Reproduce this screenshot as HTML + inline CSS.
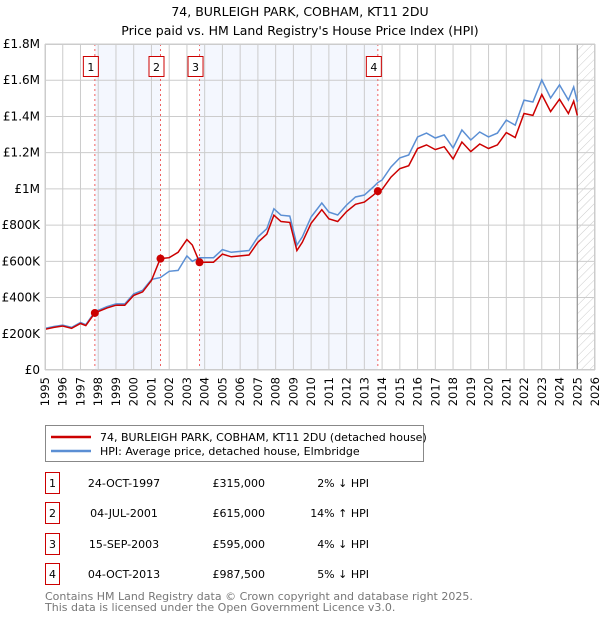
<!DOCTYPE html>
<html><head><meta charset="utf-8">
<style>
body{margin:0;background:#fff;font-family:"DejaVu Sans","Liberation Sans",sans-serif;}
svg text{font-family:"DejaVu Sans","Liberation Sans",sans-serif;}
</style></head>
<body>
<svg id="chart" width="600" height="620" viewBox="0 0 600 620">
<defs>
<pattern id="hatch" width="6" height="6" patternUnits="userSpaceOnUse" patternTransform="rotate(45)">
<line x1="0" y1="0" x2="0" y2="6" stroke="#ccc" stroke-width="1"/>
</pattern>
</defs>
<text x="300" y="16" text-anchor="middle" font-size="12.5" fill="#000">74, BURLEIGH PARK, COBHAM, KT11 2DU</text>
<text x="300" y="35" text-anchor="middle" font-size="12.5" fill="#000">Price paid vs. HM Land Registry's House Price Index (HPI)</text>
<g id="plot"></g>
<g id="legend">
<rect x="45.5" y="425.5" width="378" height="36" fill="#fff" stroke="#888"/>
<line x1="51" y1="437" x2="91" y2="437" stroke="#cc0000" stroke-width="2.5"/>
<text x="100" y="441" font-size="11">74, BURLEIGH PARK, COBHAM, KT11 2DU (detached house)</text>
<line x1="51" y1="451" x2="91" y2="451" stroke="#5b8fd4" stroke-width="2.5"/>
<text x="100" y="455" font-size="11">HPI: Average price, detached house, Elmbridge</text>
</g>
<g id="table"></g>
<text x="45" y="600" font-size="11" fill="#777">Contains HM Land Registry data © Crown copyright and database right 2025.</text>
<text x="45" y="611" font-size="11" fill="#777">This data is licensed under the Open Government Licence v3.0.</text>
</svg>
<script>
const dates=[1995,1995.5,1996,1996.5,1997,1997.3,1997.81,1998.5,1999,1999.5,2000,2000.5,2001,2001.5,2002,2002.5,2003,2003.3,2003.71,2004,2004.5,2005,2005.5,2006,2006.5,2007,2007.5,2007.9,2008.3,2008.8,2009.2,2009.5,2010,2010.6,2011,2011.5,2012,2012.5,2013,2013.5,2013.76,2014,2014.5,2015,2015.5,2016,2016.5,2017,2017.5,2018,2018.5,2019,2019.5,2020,2020.5,2021,2021.5,2022,2022.5,2023,2023.5,2024,2024.5,2024.8,2025.0];
const hpiValues=[230,240,248,235,262,250,322,350,365,365,420,440,500,510,545,550,630,600,620,620,620,665,650,655,660,735,780,890,855,850,690,735,845,922,872,856,911,955,966,1010,1035,1049,1121,1171,1187,1287,1308,1281,1298,1226,1325,1270,1314,1287,1308,1380,1352,1490,1480,1601,1502,1574,1491,1563,1480];
const priceValues=[225,235,243,230,257,245,315,343,358,358,412,431,495,615,620,650,720,690,595,595,595,640,625,630,635,705,750,855,820,815,660,705,810,885,835,820,875,915,927,965,987.5,997,1065,1112,1128,1223,1243,1217,1233,1165,1259,1206,1248,1223,1243,1311,1284,1416,1406,1521,1427,1495,1416,1485,1406];
const saleDates=[1997.81,2001.51,2003.71,2013.76];
const salePrices=[315,615,595,987.5];
const saleLabels=["1","2","3","4"];
const saleDateText=["24-OCT-1997","04-JUL-2001","15-SEP-2003","04-OCT-2013"];
const salePriceText=["£315,000","£615,000","£595,000","£987,500"];
const saleHpiText=["2% ↓ HPI","14% ↑ HPI","4% ↓ HPI","5% ↓ HPI"];
const yTicks=[0,200,400,600,800,1000,1200,1400,1600,1800];
const yTickLabels=["£0","£200K","£400K","£600K","£800K","£1M","£1.2M","£1.4M","£1.6M","£1.8M"];
const xTicks=[];for(let y=1995;y<=2026;y++)xTicks.push(y);

const X0=45,X1=595,Y0=370,Y1=44;
const xs=d=>X0+(d-1995)/(2026-1995)*(X1-X0);
const ys=v=>Y0-v/1800*(Y0-Y1);
const NS="http://www.w3.org/2000/svg";
const plot=document.getElementById('plot');
function mk(tag,attrs,parent){const e=document.createElementNS(NS,tag);for(const k in attrs)e.setAttribute(k,attrs[k]);(parent||plot).appendChild(e);return e;}

let e;
e=mk('rect',{x:X0,y:Y1,width:X1-X0,height:Y0-Y1,fill:'#fff'});


[[0,1],[2,3]].forEach(p=>{
  e=mk('rect',{x:xs(saleDates[p[0]]),y:Y1,width:xs(saleDates[p[1]])-xs(saleDates[p[0]]),height:Y0-Y1,fill:'#f4f7fe'});
  
  
});
e=mk('rect',{x:xs(2025.0),y:Y1,width:X1-xs(2025.0),height:Y0-Y1,fill:'url(#hatch)'});


xTicks.forEach((t,i)=>{
  e=mk('line',{x1:xs(t),x2:xs(t),y1:Y1,y2:Y0,stroke:'#ccc','stroke-width':1});
  
  
  e=mk('text',{x:0,y:0,'font-size':11.5,'text-anchor':'end',transform:`translate(${xs(t)+4},${Y0+7}) rotate(-90)`});
  e.textContent=t;
  
  
});
yTicks.forEach((t,i)=>{
  e=mk('line',{x1:X0,x2:X1,y1:ys(t),y2:ys(t),stroke:'#ccc','stroke-width':1});
  
  
  e=mk('text',{x:40,y:ys(t)+4,'font-size':12,'text-anchor':'end'});
  e.textContent=yTickLabels[i];
  
  
});
e=mk('line',{x1:xs(2025.0),x2:xs(2025.0),y1:Y1,y2:Y0,stroke:'#888','stroke-width':1});


saleDates.forEach((d,i)=>{
  e=mk('line',{x1:xs(d),x2:xs(d),y1:Y1,y2:Y0,stroke:'#f06060','stroke-width':1,'stroke-dasharray':'2,3'});
  
  
});
const path=vals=>vals.map((v,i)=>(i?'L':'M')+xs(dates[i]).toFixed(1)+','+ys(v).toFixed(1)).join('');
e=mk('path',{d:path(hpiValues),fill:'none',stroke:'#5b8fd4','stroke-width':1.5});


e=mk('path',{d:path(priceValues),fill:'none',stroke:'#cc0000','stroke-width':1.5});


saleDates.forEach((d,i)=>{
  e=mk('circle',{cx:xs(d),cy:ys(salePrices[i]),r:4,fill:'#cc0000'});
  
  
  e=mk('rect',{x:xs(d)-11.5,y:56.5,width:15,height:20,fill:'#fff',stroke:'#cc0000'});
  
  
  e=mk('text',{x:xs(d)-4,y:71,'font-size':11,'text-anchor':'middle'});
  e.textContent=saleLabels[i];
  
  
});
e=mk('rect',{x:X0+0.5,y:Y1+0.5,width:X1-X0-1,height:Y0-Y1-1,fill:'none',stroke:'#ccc'});



const tbl=document.getElementById('table');
const rowY=[483,513,544,574];
saleLabels.forEach((l,i)=>{
  const cy=rowY[i];
  e=mk('rect',{x:45.5,y:cy-10.5,width:14,height:21,fill:'#fff',stroke:'#cc0000'},tbl);
  
  
  e=mk('text',{x:52.5,y:cy+4,'font-size':11,'text-anchor':'middle'},tbl);
  e.textContent=l;
  
  
  e=mk('text',{x:124,y:cy+4,'font-size':11,'text-anchor':'middle'},tbl);
  e.textContent=saleDateText[i];
  
  
  e=mk('text',{x:265,y:cy+4,'font-size':11,'text-anchor':'end'},tbl);
  e.textContent=salePriceText[i];
  
  
  e=mk('text',{x:369,y:cy+4,'font-size':11,'text-anchor':'end'},tbl);
  e.textContent=saleHpiText[i];
  
  
});
</script>
</body></html>
